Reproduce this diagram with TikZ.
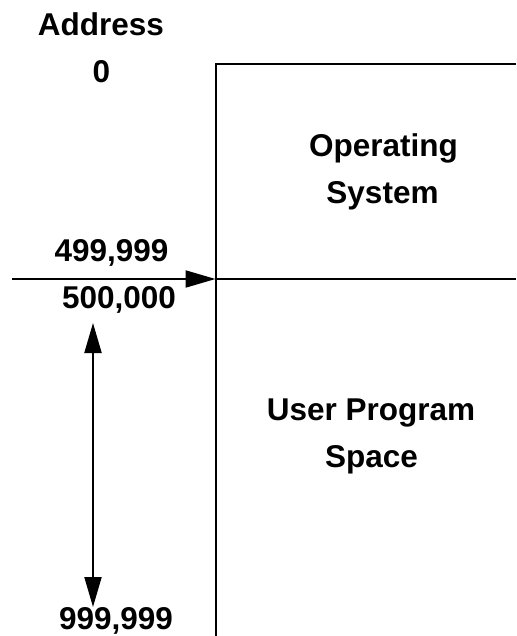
\documentclass[tikz,border=0pt]{standalone}
\usepackage{fontspec}
\setmainfont{Liberation Sans}
\usetikzlibrary{arrows.meta}
\tikzset{
  lbl/.style={font=\fontsize{31.5}{36}\selectfont\bfseries, anchor=base, inner sep=0pt},
  wire/.style={line width=2pt, black},
  tip/.style={-{Triangle[length=30pt,width=17pt]}},
  bitip/.style={{Triangle[length=30pt,width=17pt]}-{Triangle[length=30pt,width=17pt]}}
}
\begin{document}
\begin{tikzpicture}[x=1pt,y=-1pt]
  \useasboundingbox (0,0) rectangle (516,636);
  % memory block outline
  \coordinate (tl) at (215.5,64);
  \coordinate (tr) at (516,64);
  \coordinate (bl) at (215.5,636);
  \coordinate (split) at (215.5,279);
  \coordinate (sr) at (516,279);
  \coordinate (src) at (12,279);
  \draw[wire] (tr) -- (tl) -- (bl);
  \draw[wire] (split) -- (sr);
  % boundary pointer
  \draw[wire,tip] (src) -- (split);
  % user space extent
  \coordinate (utop) at (93,323);
  \coordinate (ubot) at (93,607);
  \draw[wire,bitip] (utop) -- (ubot);
  % labels
  \node[lbl] (addr) at (101,36) {Address};
  \node[lbl] (zero) at (101.5,82.5) {0};
  \node[lbl] (os1) at (383.5,157) {Operating};
  \node[lbl] (os2) at (382.5,204) {System};
  \node[lbl] (lo) at (111.5,261) {499,999};
  \node[lbl] (hi) at (119,308) {500,000};
  \node[lbl] (up1) at (371,420) {User Program};
  \node[lbl] (up2) at (371.5,467) {Space};
  \node[lbl] (end) at (116,629.5) {999,999};
\end{tikzpicture}
\end{document}
